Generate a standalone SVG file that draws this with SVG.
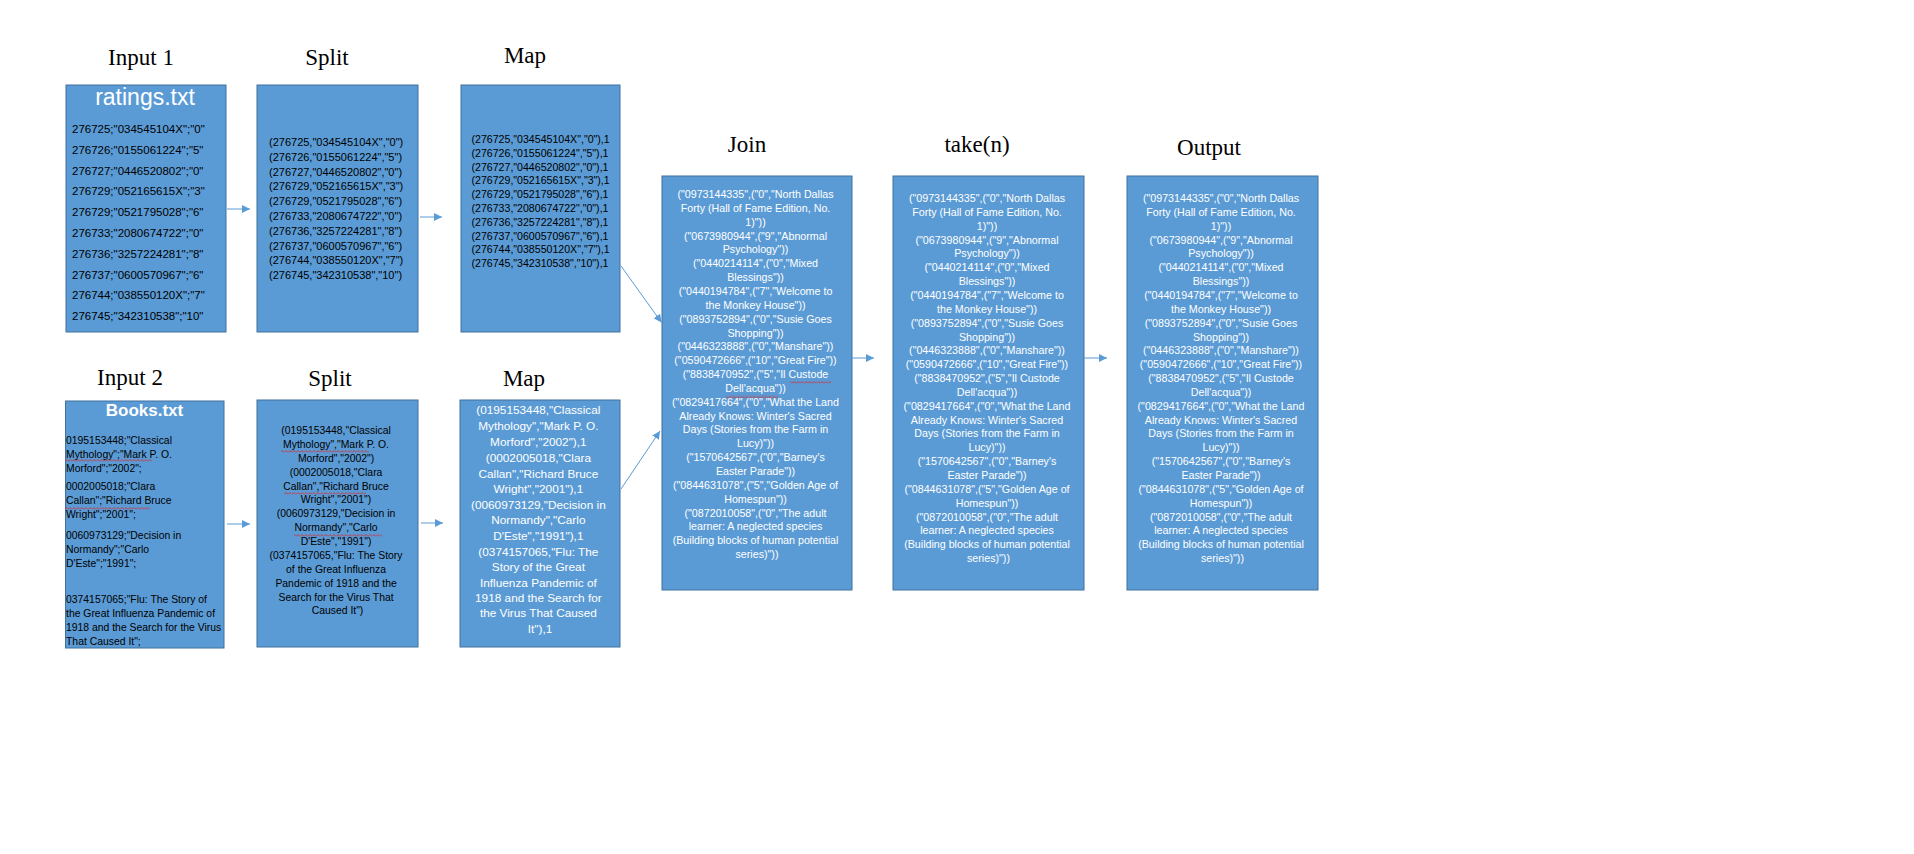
<svg xmlns="http://www.w3.org/2000/svg" width="1914" height="854" viewBox="0 0 1914 854">
<style>
.box{fill:#5B9BD5;stroke:#41719C;stroke-width:1}
.ttl{font-family:"Liberation Serif","Times New Roman",serif;font-size:23px;fill:#000;text-anchor:middle}
.t{font-family:"Liberation Sans",Arial,sans-serif}
.blk{fill:#000}
.wht{fill:#fff}
.mid{text-anchor:middle}
.conn{stroke:#5B9BD5;stroke-width:1;fill:none}
</style>
<defs>
<marker id="ah" markerUnits="userSpaceOnUse" markerWidth="9" markerHeight="9" refX="8" refY="4" orient="auto">
<path d="M0,0 L8,4 L0,8 z" fill="#5B9BD5"/>
</marker>
<pattern id="sq" patternUnits="userSpaceOnUse" width="4" height="3">
<path d="M0,2.5 L2,0.5 L4,2.5" stroke="#E0201E" stroke-width="0.8" fill="none"/>
</pattern>
</defs>
<rect width="1914" height="854" fill="#fff"/>

<g id="titles">
<text class="ttl" x="141" y="65">Input 1</text>
<text class="ttl" x="327" y="65">Split</text>
<text class="ttl" x="525" y="63">Map</text>
<text class="ttl" x="130" y="385">Input 2</text>
<text class="ttl" x="330" y="386">Split</text>
<text class="ttl" x="524" y="386">Map</text>
<text class="ttl" x="747" y="152">Join</text>
<text class="ttl" x="977" y="152">take(n)</text>
<text class="ttl" x="1209" y="155">Output</text>
</g>

<g id="input1">
<rect class="box" x="66" y="85" width="160" height="247"/>
<text class="t wht mid" x="145" y="105" font-size="23">ratings.txt</text>
<text class="t blk" font-size="11.5">
<tspan x="72" y="133">276725;"034545104X";"0"</tspan>
<tspan x="72" y="153.8">276726;"0155061224";"5"</tspan>
<tspan x="72" y="174.6">276727;"0446520802";"0"</tspan>
<tspan x="72" y="195.4">276729;"052165615X";"3"</tspan>
<tspan x="72" y="216.2">276729;"0521795028";"6"</tspan>
<tspan x="72" y="237">276733;"2080674722";"0"</tspan>
<tspan x="72" y="257.8">276736;"3257224281";"8"</tspan>
<tspan x="72" y="278.6">276737;"0600570967";"6"</tspan>
<tspan x="72" y="299.4">276744;"038550120X";"7"</tspan>
<tspan x="72" y="320.2">276745;"342310538";"10"</tspan>
</text>
</g>

<g id="split1">
<rect class="box" x="257" y="85" width="161" height="247"/>
<text class="t blk" font-size="11">
<tspan x="269" y="146">(276725,"034545104X","0")</tspan>
<tspan x="269" y="160.8">(276726,"0155061224","5")</tspan>
<tspan x="269" y="175.6">(276727,"0446520802","0")</tspan>
<tspan x="269" y="190.4">(276729,"052165615X","3")</tspan>
<tspan x="269" y="205.2">(276729,"0521795028","6")</tspan>
<tspan x="269" y="220">(276733,"2080674722","0")</tspan>
<tspan x="269" y="234.8">(276736,"3257224281","8")</tspan>
<tspan x="269" y="249.6">(276737,"0600570967","6")</tspan>
<tspan x="269" y="264.4">(276744,"038550120X","7")</tspan>
<tspan x="269" y="279.2">(276745,"342310538","10")</tspan>
</text>
</g>

<g id="map1">
<rect class="box" x="461" y="85" width="159" height="247"/>
<text class="t blk" font-size="10.6">
<tspan x="471.5" y="143">(276725,"034545104X","0"),1</tspan>
<tspan x="471.5" y="156.8">(276726,"0155061224","5"),1</tspan>
<tspan x="471.5" y="170.6">(276727,"0446520802","0"),1</tspan>
<tspan x="471.5" y="184.4">(276729,"052165615X","3"),1</tspan>
<tspan x="471.5" y="198.2">(276729,"0521795028","6"),1</tspan>
<tspan x="471.5" y="212">(276733,"2080674722","0"),1</tspan>
<tspan x="471.5" y="225.8">(276736,"3257224281","8"),1</tspan>
<tspan x="471.5" y="239.6">(276737,"0600570967","6"),1</tspan>
<tspan x="471.5" y="253.4">(276744,"038550120X","7"),1</tspan>
<tspan x="471.5" y="267.2">(276745,"342310538","10"),1</tspan>
</text>
</g>

<g id="input2">
<rect class="box" x="65.5" y="401" width="158.5" height="247"/>
<text class="t wht mid" x="144.5" y="416" font-size="17" font-weight="bold">Books.txt</text>
<text class="t blk" font-size="10.4">
<tspan x="66" y="444">0195153448;"Classical</tspan>
<tspan x="66" y="458">Mythology";"Mark P. O.</tspan>
<tspan x="66" y="472">Morford";"2002";</tspan>
<tspan x="66" y="490">0002005018;"Clara</tspan>
<tspan x="66" y="504">Callan";"Richard Bruce</tspan>
<tspan x="66" y="518">Wright";"2001";</tspan>
<tspan x="66" y="539">0060973129;"Decision in</tspan>
<tspan x="66" y="553">Normandy";"Carlo</tspan>
<tspan x="66" y="567">D'Este";"1991";</tspan>
<tspan x="66" y="603">0374157065;"Flu: The Story of</tspan>
<tspan x="66" y="617">the Great Influenza Pandemic of</tspan>
<tspan x="66" y="630.5">1918 and the Search for the Virus</tspan>
<tspan x="66" y="645">That Caused It";</tspan>
</text>
<rect x="65" y="459" width="87" height="3" fill="url(#sq)"/>
<rect x="65" y="507" width="85" height="3" fill="url(#sq)"/>
</g>

<g id="split2">
<rect class="box" x="257" y="400" width="161" height="247"/>
<text class="t blk mid" font-size="10.4">
<tspan x="337.5" y="434">(0195153448,"Classical</tspan>
<tspan x="337.5" y="448">Mythology","Mark P. O.</tspan>
<tspan x="337.5" y="462">Morford","2002")</tspan>
<tspan x="337.5" y="475.5">(0002005018,"Clara</tspan>
<tspan x="337.5" y="489.5">Callan","Richard Bruce</tspan>
<tspan x="337.5" y="503">Wright","2001")</tspan>
<tspan x="337.5" y="517">(0060973129,"Decision in</tspan>
<tspan x="337.5" y="531">Normandy","Carlo</tspan>
<tspan x="337.5" y="545">D'Este","1991")</tspan>
<tspan x="337.5" y="559">(0374157065,"Flu: The Story</tspan>
<tspan x="337.5" y="572.5">of the Great Influenza</tspan>
<tspan x="337.5" y="586.5">Pandemic of 1918 and the</tspan>
<tspan x="337.5" y="600.5">Search for the Virus That</tspan>
<tspan x="337.5" y="614">Caused It")</tspan>
</text>
<rect x="281" y="450" width="88" height="3" fill="url(#sq)"/>
<rect x="284" y="492" width="82" height="3" fill="url(#sq)"/>
<rect x="294" y="534" width="88" height="3" fill="url(#sq)"/>
</g>

<g id="map2">
<rect class="box" x="460" y="400" width="160" height="247"/>
<text class="t wht mid" font-size="11.8">
<tspan x="540" y="414">(0195153448,"Classical</tspan>
<tspan x="540" y="430">Mythology","Mark P. O.</tspan>
<tspan x="540" y="445.5">Morford","2002"),1</tspan>
<tspan x="540" y="461.5">(0002005018,"Clara</tspan>
<tspan x="540" y="477.5">Callan","Richard Bruce</tspan>
<tspan x="540" y="492.5">Wright","2001"),1</tspan>
<tspan x="540" y="508.5">(0060973129,"Decision in</tspan>
<tspan x="540" y="524">Normandy","Carlo</tspan>
<tspan x="540" y="539.5">D'Este","1991"),1</tspan>
<tspan x="540" y="555.5">(0374157065,"Flu: The</tspan>
<tspan x="540" y="571">Story of the Great</tspan>
<tspan x="540" y="586.5">Influenza Pandemic of</tspan>
<tspan x="540" y="601.5">1918 and the Search for</tspan>
<tspan x="540" y="617">the Virus That Caused</tspan>
<tspan x="540" y="633">It"),1</tspan>
</text>
</g>

<g id="join">
<rect class="box" x="662" y="176" width="190" height="414"/>
<text class="t wht mid" font-size="10.7">
<tspan x="757" y="198">("0973144335",("0","North Dallas</tspan>
<tspan x="757" y="211.85">Forty (Hall of Fame Edition, No.</tspan>
<tspan x="757" y="225.7">1)"))</tspan>
<tspan x="757" y="239.55">("0673980944",("9","Abnormal</tspan>
<tspan x="757" y="253.4">Psychology"))</tspan>
<tspan x="757" y="267.25">("0440214114",("0","Mixed</tspan>
<tspan x="757" y="281.1">Blessings"))</tspan>
<tspan x="757" y="294.95">("0440194784",("7","Welcome to</tspan>
<tspan x="757" y="308.8">the Monkey House"))</tspan>
<tspan x="757" y="322.65">("0893752894",("0","Susie Goes</tspan>
<tspan x="757" y="336.5">Shopping"))</tspan>
<tspan x="757" y="350.35">("0446323888",("0","Manshare"))</tspan>
<tspan x="757" y="364.2">("0590472666",("10","Great Fire"))</tspan>
<tspan x="757" y="378.05">("8838470952",("5","Il Custode</tspan>
<tspan x="757" y="391.9">Dell'acqua"))</tspan>
<tspan x="757" y="405.75">("0829417664",("0","What the Land</tspan>
<tspan x="757" y="419.6">Already Knows: Winter's Sacred</tspan>
<tspan x="757" y="433.45">Days (Stories from the Farm in</tspan>
<tspan x="757" y="447.3">Lucy)"))</tspan>
<tspan x="757" y="461.15">("1570642567",("0","Barney's</tspan>
<tspan x="757" y="475">Easter Parade"))</tspan>
<tspan x="757" y="488.85">("0844631078",("5","Golden Age of</tspan>
<tspan x="757" y="502.7">Homespun"))</tspan>
<tspan x="757" y="516.55">("0872010058",("0","The adult</tspan>
<tspan x="757" y="530.4">learner: A neglected species</tspan>
<tspan x="757" y="544.25">(Building blocks of human potential</tspan>
<tspan x="757" y="558.1">series)"))</tspan>
</text>
<rect x="790" y="381" width="41" height="3" fill="url(#sq)"/>
<rect x="726" y="395" width="52" height="3" fill="url(#sq)"/>
</g>

<g id="take">
<rect class="box" x="893" y="176" width="191" height="414"/>
<text class="t wht mid" font-size="10.7">
<tspan x="988.5" y="202">("0973144335",("0","North Dallas</tspan>
<tspan x="988.5" y="215.85">Forty (Hall of Fame Edition, No.</tspan>
<tspan x="988.5" y="229.7">1)"))</tspan>
<tspan x="988.5" y="243.55">("0673980944",("9","Abnormal</tspan>
<tspan x="988.5" y="257.4">Psychology"))</tspan>
<tspan x="988.5" y="271.25">("0440214114",("0","Mixed</tspan>
<tspan x="988.5" y="285.1">Blessings"))</tspan>
<tspan x="988.5" y="298.95">("0440194784",("7","Welcome to</tspan>
<tspan x="988.5" y="312.8">the Monkey House"))</tspan>
<tspan x="988.5" y="326.65">("0893752894",("0","Susie Goes</tspan>
<tspan x="988.5" y="340.5">Shopping"))</tspan>
<tspan x="988.5" y="354.35">("0446323888",("0","Manshare"))</tspan>
<tspan x="988.5" y="368.2">("0590472666",("10","Great Fire"))</tspan>
<tspan x="988.5" y="382.05">("8838470952",("5","Il Custode</tspan>
<tspan x="988.5" y="395.9">Dell'acqua"))</tspan>
<tspan x="988.5" y="409.75">("0829417664",("0","What the Land</tspan>
<tspan x="988.5" y="423.6">Already Knows: Winter's Sacred</tspan>
<tspan x="988.5" y="437.45">Days (Stories from the Farm in</tspan>
<tspan x="988.5" y="451.3">Lucy)"))</tspan>
<tspan x="988.5" y="465.15">("1570642567",("0","Barney's</tspan>
<tspan x="988.5" y="479">Easter Parade"))</tspan>
<tspan x="988.5" y="492.85">("0844631078",("5","Golden Age of</tspan>
<tspan x="988.5" y="506.7">Homespun"))</tspan>
<tspan x="988.5" y="520.55">("0872010058",("0","The adult</tspan>
<tspan x="988.5" y="534.4">learner: A neglected species</tspan>
<tspan x="988.5" y="548.25">(Building blocks of human potential</tspan>
<tspan x="988.5" y="562.1">series)"))</tspan>
</text>
</g>

<g id="output">
<rect class="box" x="1127" y="176" width="191" height="414"/>
<text class="t wht mid" font-size="10.7">
<tspan x="1222.5" y="202">("0973144335",("0","North Dallas</tspan>
<tspan x="1222.5" y="215.85">Forty (Hall of Fame Edition, No.</tspan>
<tspan x="1222.5" y="229.7">1)"))</tspan>
<tspan x="1222.5" y="243.55">("0673980944",("9","Abnormal</tspan>
<tspan x="1222.5" y="257.4">Psychology"))</tspan>
<tspan x="1222.5" y="271.25">("0440214114",("0","Mixed</tspan>
<tspan x="1222.5" y="285.1">Blessings"))</tspan>
<tspan x="1222.5" y="298.95">("0440194784",("7","Welcome to</tspan>
<tspan x="1222.5" y="312.8">the Monkey House"))</tspan>
<tspan x="1222.5" y="326.65">("0893752894",("0","Susie Goes</tspan>
<tspan x="1222.5" y="340.5">Shopping"))</tspan>
<tspan x="1222.5" y="354.35">("0446323888",("0","Manshare"))</tspan>
<tspan x="1222.5" y="368.2">("0590472666",("10","Great Fire"))</tspan>
<tspan x="1222.5" y="382.05">("8838470952",("5","Il Custode</tspan>
<tspan x="1222.5" y="395.9">Dell'acqua"))</tspan>
<tspan x="1222.5" y="409.75">("0829417664",("0","What the Land</tspan>
<tspan x="1222.5" y="423.6">Already Knows: Winter's Sacred</tspan>
<tspan x="1222.5" y="437.45">Days (Stories from the Farm in</tspan>
<tspan x="1222.5" y="451.3">Lucy)"))</tspan>
<tspan x="1222.5" y="465.15">("1570642567",("0","Barney's</tspan>
<tspan x="1222.5" y="479">Easter Parade"))</tspan>
<tspan x="1222.5" y="492.85">("0844631078",("5","Golden Age of</tspan>
<tspan x="1222.5" y="506.7">Homespun"))</tspan>
<tspan x="1222.5" y="520.55">("0872010058",("0","The adult</tspan>
<tspan x="1222.5" y="534.4">learner: A neglected species</tspan>
<tspan x="1222.5" y="548.25">(Building blocks of human potential</tspan>
<tspan x="1222.5" y="562.1">series)"))</tspan>
</text>
</g>

<g id="connectors">
<line class="conn" x1="227" y1="209" x2="250" y2="209" marker-end="url(#ah)"/>
<line class="conn" x1="420" y1="217" x2="442" y2="217" marker-end="url(#ah)"/>
<line class="conn" x1="227" y1="524" x2="250" y2="524" marker-end="url(#ah)"/>
<line class="conn" x1="421" y1="523" x2="443" y2="523" marker-end="url(#ah)"/>
<line class="conn" x1="621" y1="266" x2="661.5" y2="322.5" marker-end="url(#ah)"/>
<line class="conn" x1="621" y1="489" x2="660" y2="431" marker-end="url(#ah)"/>
<line class="conn" x1="852" y1="358" x2="874" y2="358" marker-end="url(#ah)"/>
<line class="conn" x1="1084" y1="358" x2="1107" y2="358" marker-end="url(#ah)"/>
</g>
</svg>
